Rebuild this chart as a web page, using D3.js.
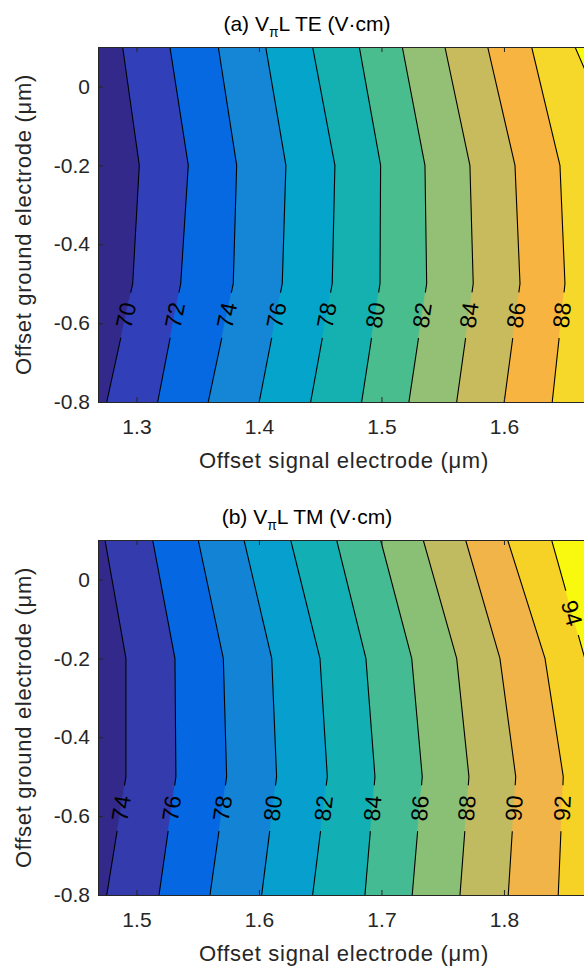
<!DOCTYPE html>
<html><head><meta charset="utf-8">
<script src="https://cdn.jsdelivr.net/npm/d3@7"></script>
<style>
html,body{margin:0;padding:0;background:#fff;}
svg{display:block;font-family:"Liberation Sans",Arial,Helvetica,sans-serif;}
</style></head><body>
<svg id="chart" width="584" height="970"></svg>
<script>
// Grid rows: ground-electrode offset (µm)
const rowsY = [0.1, -0.2, -0.5, -0.8];
const yTicks = [0, -0.2, -0.4, -0.6, -0.8];

// (a) TE: contour levels (V·cm) and the signal-electrode offset (µm)
// at which each level crosses each grid row
const levelsTE = [70, 72, 74, 76, 78, 80, 82, 84, 86, 88, 90];
const crossTE = [
  [1.2887, 1.3023, 1.2969, 1.2757],
  [1.3273, 1.3423, 1.3361, 1.3173],
  [1.3668, 1.3818, 1.3790, 1.3586],
  [1.4055, 1.4220, 1.4190, 1.4002],
  [1.4438, 1.4620, 1.4598, 1.4422],
  [1.4819, 1.4993, 1.4988, 1.4838],
  [1.5170, 1.5355, 1.5369, 1.5224],
  [1.5518, 1.5722, 1.5749, 1.5614],
  [1.5867, 1.6090, 1.6131, 1.6002],
  [1.6226, 1.6457, 1.6498, 1.6394],
  [1.6580, 1.7000, 1.7030, 1.6900]
];
// row (µm) where each level's inline label sits; null = unlabelled
const labelAtTE = [-0.58, -0.58, -0.58, -0.58, -0.58, -0.58, -0.58, -0.58, -0.58, -0.58, null];
const xTicksTE = [1.3, 1.4, 1.5, 1.6];

// (b) TM
const levelsTM = [74, 76, 78, 80, 82, 84, 86, 88, 90, 92, 94];
const crossTM = [
  [1.4743, 1.4914, 1.4914, 1.4757],
  [1.5132, 1.5314, 1.5322, 1.5184],
  [1.5504, 1.5709, 1.5736, 1.5600],
  [1.5878, 1.6104, 1.6144, 1.6022],
  [1.6259, 1.6498, 1.6558, 1.6438],
  [1.6634, 1.6873, 1.6947, 1.6865],
  [1.6993, 1.7247, 1.7333, 1.7251],
  [1.7341, 1.7614, 1.7714, 1.7641],
  [1.7687, 1.7967, 1.8096, 1.8035],
  [1.8030, 1.8335, 1.8484, 1.8443],
  [1.8389, 1.8660, 1.8865, 1.8833]
];
const labelAtTM = [-0.58, -0.58, -0.58, -0.58, -0.58, -0.58, -0.58, -0.58, -0.58, -0.58, -0.085];
const xTicksTM = [1.5, 1.6, 1.7, 1.8];

// band fills, lowest band first (parula-like)
const bandColorsTE = ["#33298A","#3140B9","#0769E2","#1586D5","#05A4CB","#14B1B0","#4ABD8F","#93C074","#C8BB5E","#F8B440","#F6D82A","#F9FB0E"];
const bandColorsTM = ["#32298A","#343BAC","#0568E2","#1383D6","#07A0CE","#12AFB5","#44BB93","#89C076","#C0BB60","#F0B449","#F6D126","#F8F90F"];

const svg = d3.select("#chart");
const FONT = '"Liberation Sans",Arial,Helvetica,sans-serif';
const AXIS_COLOR = "#262626";

function drawPanel(cfg, idx) {
  const left = 98, right = 658, top = cfg.top, bottom = cfg.top + 355;
  const x = d3.scaleLinear().domain(cfg.xDomain).range([left, right]);
  const y = d3.scaleLinear().domain([-0.8, 0.1]).range([bottom, top]);
  const g = svg.append("g");

  const clipId = "plotclip" + idx;
  g.append("clipPath").attr("id", clipId)
    .append("rect").attr("x", left).attr("y", top)
    .attr("width", right - left).attr("height", bottom - top);

  // filled bands: lowest colour underneath, then each level's region to its right
  const plot = g.append("g").attr("clip-path", `url(#${clipId})`);
  plot.append("rect").attr("x", left).attr("y", top)
    .attr("width", right - left).attr("height", bottom - top)
    .attr("fill", cfg.colors[0]);
  const line = d3.line();
  cfg.cross.forEach((c, k) => {
    const pts = rowsY.map((r, i) => [x(c[i]), y(r)]);
    pts.push([right + 40, y(rowsY[rowsY.length - 1])], [right + 40, y(rowsY[0])]);
    plot.append("path").attr("d", line(pts) + "Z")
      .attr("fill", cfg.colors[k + 1]).attr("stroke", cfg.colors[k + 1]).attr("stroke-width", 0.6);
  });

  // label placement along each contour
  const labels = [];
  cfg.cross.forEach((c, k) => {
    const v = cfg.labelAt[k];
    if (v == null) return;
    let i = 0;
    while (i < rowsY.length - 2 && v < rowsY[i + 1]) i++;
    const t = (rowsY[i] - v) / (rowsY[i] - rowsY[i + 1]);
    const xv = c[i] + t * (c[i + 1] - c[i]);
    const dx = x(c[i + 1]) - x(c[i]), dy = y(rowsY[i + 1]) - y(rowsY[i]);
    let ang = Math.atan2(dy, dx) * 180 / Math.PI;
    if (ang > 90) ang -= 180;
    if (ang <= -90) ang += 180;
    labels.push({ px: x(xv), py: y(v), ang, text: String(cfg.levels[k]) });
  });

  // mask that breaks the contour lines under their labels
  const maskId = "labelgap" + idx;
  const mask = g.append("mask").attr("id", maskId).attr("maskUnits", "userSpaceOnUse")
    .attr("x", 0).attr("y", 0).attr("width", 584).attr("height", 970);
  mask.append("rect").attr("x", 0).attr("y", 0).attr("width", 584).attr("height", 970).attr("fill", "#fff");
  labels.forEach(L => {
    mask.append("rect").attr("x", -23).attr("y", -12).attr("width", 46).attr("height", 24)
      .attr("fill", "#000")
      .attr("transform", `translate(${L.px},${L.py}) rotate(${L.ang})`);
  });

  const lines = plot.append("g").attr("mask", `url(#${maskId})`);
  cfg.cross.forEach(c => {
    lines.append("path").attr("d", line(rowsY.map((r, i) => [x(c[i]), y(r)])))
      .attr("fill", "none").attr("stroke", "#000").attr("stroke-width", 1.1)
      .attr("stroke-linejoin", "round");
  });

  plot.selectAll("text.clabel").data(labels).join("text")
    .attr("class", "clabel")
    .attr("transform", d => `translate(${d.px},${d.py}) rotate(${d.ang})`)
    .attr("text-anchor", "middle").attr("dy", "0.36em")
    .attr("font-size", 23).attr("fill", "#000")
    .text(d => d.text);

  // axes with inward ticks
  const styleAxis = sel => {
    sel.selectAll("path.domain").attr("stroke", AXIS_COLOR).attr("stroke-width", 1);
    sel.selectAll(".tick line").attr("stroke", AXIS_COLOR).attr("stroke-width", 1);
    sel.selectAll(".tick text").attr("fill", AXIS_COLOR).attr("font-size", 21).attr("font-family", FONT);
    sel.attr("font-family", FONT);
  };
  g.append("g").attr("transform", `translate(0,${bottom})`)
    .call(d3.axisBottom(x).tickValues(cfg.xTicks).tickSizeInner(-5).tickSizeOuter(0).tickPadding(17)
      .tickFormat(d3.format(".1f")))
    .call(styleAxis);
  g.append("g").attr("transform", `translate(0,${top})`)
    .call(d3.axisTop(x).tickValues(cfg.xTicks).tickSizeInner(-5).tickSizeOuter(0).tickFormat(""))
    .call(styleAxis);
  g.append("g").attr("transform", `translate(${left},0)`)
    .call(d3.axisLeft(y).tickValues(yTicks).tickSizeInner(-5).tickSizeOuter(0).tickPadding(8)
      .tickFormat(d => d === 0 ? "0" : String(d)))
    .call(styleAxis);

  // axis titles
  g.append("text").attr("x", 344).attr("y", bottom + 66)
    .attr("text-anchor", "middle").attr("font-size", 22).attr("letter-spacing", 0.7)
    .attr("fill", AXIS_COLOR).text("Offset signal electrode (μm)");
  g.append("text").attr("transform", `translate(31,${(top + bottom) / 2}) rotate(-90)`)
    .attr("text-anchor", "middle").attr("font-size", 22).attr("letter-spacing", 0.7)
    .attr("fill", AXIS_COLOR).text("Offset ground electrode (μm)");

  // panel title with subscript π
  const title = g.append("text").attr("x", 307).attr("y", top - 16)
    .attr("text-anchor", "middle").attr("font-size", 21).attr("fill", "#000");
  title.append("tspan").text(cfg.titlePre + " V");
  title.append("tspan").attr("font-size", 14).attr("dy", 6).text("π");
  title.append("tspan").attr("dy", -6).text("L " + cfg.mode + " (V·cm)");
}

drawPanel({ top: 47, xDomain: [1.2686, 1.2686 + 560 / 1225], xTicks: xTicksTE,
  levels: levelsTE, cross: crossTE, labelAt: labelAtTE, colors: bandColorsTE,
  titlePre: "(a)", mode: "TE" }, 0);
drawPanel({ top: 540, xDomain: [1.4686, 1.4686 + 560 / 1225], xTicks: xTicksTM,
  levels: levelsTM, cross: crossTM, labelAt: labelAtTM, colors: bandColorsTM,
  titlePre: "(b)", mode: "TM" }, 1);
</script>
</body></html>
